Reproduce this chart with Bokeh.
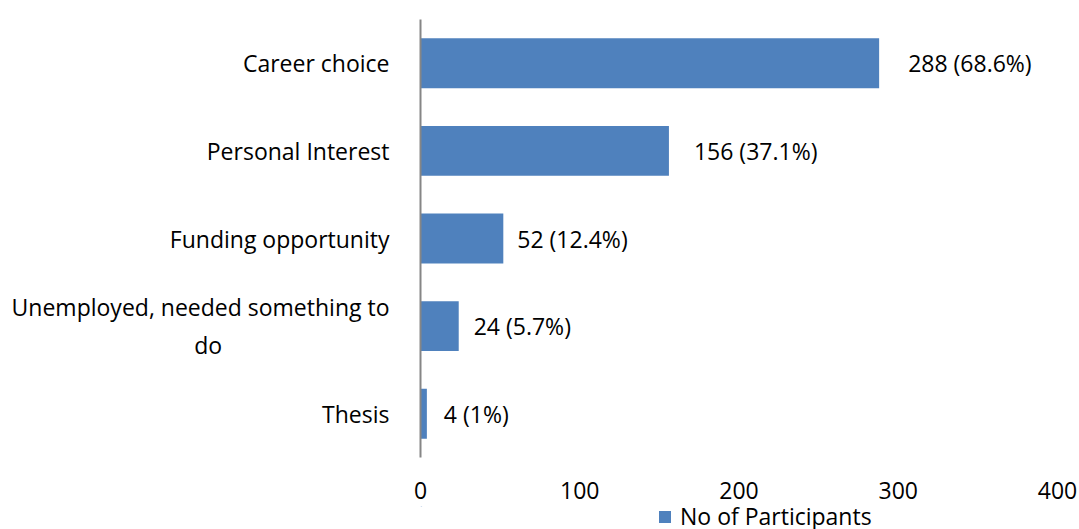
from bokeh.plotting import figure
from bokeh.layouts import column
from bokeh.models import ColumnDataSource, FactorRange, Range1d, Legend, LegendItem, FixedTicker
from bokeh.embed import file_html
from bokeh.resources import INLINE
from bokeh.core.properties import value

NB = "\u00a0"
categories = ["Career choice", "Personal Interest", "Funding opportunity",
              "Unemployed, needed something to\ndo" + NB * 28, "Thesis"]
participants = [288, 156, 52, 24, 4]
percent_labels = ["68.6%", "37.1%", "12.4%", "5.7%", "1%"]
x_ticks = [0, 100, 200, 300, 400]
series_name = "No of Participants"

# label offsets (pixels, style only)
label_offsets = [29, 25, 14, 15, 17]

FONT = "Open Sans"
FS = "23px"
BLUE = "#4F81BD"

labels = [f"{v} ({p})" for v, p in zip(participants, percent_labels)]
src = ColumnDataSource(dict(cat=categories, val=participants, lab=labels, off=label_offsets))

xr = Range1d(0, 400)
p = figure(width=1079, height=506, output_backend="svg", toolbar_location=None,
           y_range=FactorRange(factors=list(reversed(categories))),
           x_range=xr,
           min_border_left=420, min_border_right=22, min_border_top=19, min_border_bottom=49)

r = p.hbar(y="cat", right="val", left=0, height=0.57, source=src, color=BLUE, line_color=None)
p.text(x="val", y="cat", text="lab", source=src, x_offset="off", text_baseline="middle",
       text_align="left", text_font=value(FONT), text_font_size=FS, text_color="#000000")

p.xgrid.visible = False
p.ygrid.visible = False
p.outline_line_color = None

xa = p.xaxis[0]
xa.ticker = FixedTicker(ticks=x_ticks)
xa.axis_line_color = None
xa.major_tick_line_color = None
xa.minor_tick_line_color = None
xa.major_label_standoff = 18
xa.major_label_text_font = FONT
xa.major_label_text_font_size = FS
xa.major_label_text_color = "#000000"

ya = p.yaxis[0]
ya.axis_line_color = "#868686"
ya.axis_line_width = 2
ya.major_tick_line_color = None
ya.minor_tick_line_color = None
ya.major_label_standoff = 25
ya.major_label_text_font = FONT
ya.major_label_text_font_size = FS
ya.major_label_text_color = "#000000"

# legend strip below the chart (its proxy bar lies outside the strip's visible range)
p2 = figure(width=1079, height=23, output_backend="svg", toolbar_location=None,
            x_range=xr, y_range=Range1d(0, 1),
            x_axis_location=None, y_axis_location=None,
            min_border_left=420, min_border_right=22, min_border_top=0, min_border_bottom=0)
p2.xgrid.visible = False
p2.ygrid.visible = False
p2.outline_line_color = None
lr = p2.hbar(y=[5], right=[1], left=0, height=0.5, color=BLUE, line_color=None)

legend = Legend(items=[LegendItem(label=series_name, renderers=[lr])],
                location=(237, -3), orientation="horizontal",
                label_text_font=FONT, label_text_font_size=FS, label_text_color="#000000",
                glyph_width=15, glyph_height=15, label_standoff=8,
                padding=0, margin=0, border_line_color=None, background_fill_alpha=0)
p2.add_layout(legend, "center")

layout = column(p, p2, spacing=0)
open("out.html", "w").write(file_html(layout, INLINE))
